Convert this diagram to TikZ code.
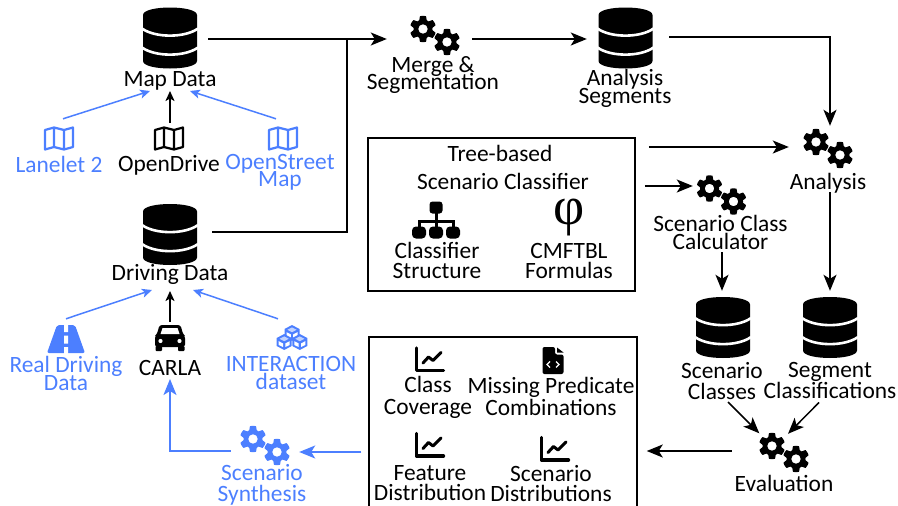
\documentclass[tikz,border=0pt]{standalone}
\usepackage{fontspec}
\setmainfont{Carlito}
\newfontfamily\phifont{Liberation Serif}
\usetikzlibrary{arrows.meta}
\definecolor{iconblue}{HTML}{4C7FFF}
\tikzset{
  lbl/.style={inner sep=0pt,align=center,font=\fontsize{23.4}{#1}\selectfont,
    execute at begin node={\lineskiplimit=-50pt\rule{0pt}{18pt}},
    execute at end node={\rule[-2pt]{0pt}{2pt}}},
  lbl/.default=18,
  blbl/.style={lbl=#1,text=iconblue},
  blbl/.default=18,
  icon/.style 2 args={inner sep=0pt,minimum width=#1,minimum height=#2},
  conn/.style={line width=1.5pt,-{Stealth[length=16pt,width=13pt,inset=4pt]}},
  sconn/.style={line width=1.5pt,-{Stealth[length=10pt,width=9pt,inset=2.5pt]}},
  bsconn/.style={sconn,draw=iconblue},
  bconn/.style={conn,draw=iconblue,-{Stealth[length=16pt,width=13pt,inset=4pt,fill=iconblue]}},
  plain/.style={line width=1.5pt},
  boxed/.style={draw=black,line width=1.5pt,inner sep=0pt},
  pics/db/.style={code={
    \fill[black,rounded corners=1pt] (-27,-22) .. controls (-27,-33) and (27,-33) .. (27,-22) -- (27,22) .. controls (27,33) and (-27,33) .. (-27,22) -- cycle;
    \draw[white,line width=2.6pt] (-28,-9.5) .. controls (-15,0) and (15,0) .. (28,-9.5);
    \draw[white,line width=2.6pt] (-28,9.5) .. controls (-15,19) and (15,19) .. (28,9.5);
  }},
  pics/gears/.style={code={
    \foreach \gx/\gy in {-12/-6,12/7}{
      \begin{scope}[shift={(\gx,\gy)}]
      \fill[#1,even odd rule,line join=round] plot[domain=0:360,samples=181] (\x:{11.3+1.8*max(-1,min(1,2.2*cos(6*\x+180)+0.6))}) -- cycle (0,0) circle (4.8);
      \end{scope}
    }
  }},
  pics/foldmap/.style={code={
    \draw[#1,line width=2.2pt,line join=round] (-14,-8.5) -- (-5,-11) -- (5,-8.5) -- (14,-11) -- (14,8.5) -- (5,11) -- (-5,8.5) -- (-14,11) -- cycle (-5,-11) -- (-5,8.5) (5,-8.5) -- (5,11);
  }},
  pics/carfront/.style={code={
    \fill[black,rounded corners=2.5pt] (-10.5,-13) -- (10.5,-13) -- (13,-4) -- (15,-2) -- (15,9) -- (-15,9) -- (-15,-2) -- (-13,-4) -- cycle;
    \fill[black,rounded corners=1pt] (-14.5,8) rectangle (-8,13);
    \fill[black,rounded corners=1pt] (14.5,8) rectangle (8,13);
    \fill[white] (-7.5,-10) -- (7.5,-10) -- (9.5,-4) -- (-9.5,-4) -- cycle;
    \fill[white] (-9.5,3) circle (2.1) (9.5,3) circle (2.1);
  }},
  pics/roadicon/.style={code={
    \fill[iconblue,rounded corners=2pt] (-9,-14) -- (9,-14) -- (19,14) -- (-19,14) -- cycle;
    \fill[white] (-2,-15) rectangle (2,-7) (-2,-3.5) rectangle (2,4.5) (-2,8) rectangle (2,15);
  }},
  pics/onecube/.style={code={
    \fill[iconblue] (0,-8) -- (7.5,-4) -- (7.5,4) -- (0,8) -- (-7.5,4) -- (-7.5,-4) -- cycle;
    \fill[iconblue!35] (0,-5.6) -- (4.6,-3.2) -- (0,-0.8) -- (-4.6,-3.2) -- cycle;
    \fill[white] (-5.5,-0.8) -- (-1.2,1.4) -- (-1.2,5) -- (-5.5,3) -- cycle;
    \fill[white] (5.5,-0.8) -- (1.2,1.4) -- (1.2,5) -- (5.5,3) -- cycle;
  }},
  pics/cubes/.style={code={
    \pic at (0,-4.5) {onecube};
    \pic at (-7.8,4.5) {onecube};
    \pic at (7.8,4.5) {onecube};
  }},
  pics/sitemap/.style={code={
    \draw[black,line width=3pt] (0,-8) -- (0,7) (-17,9) -- (-17,1.5) -- (17,1.5) -- (17,9);
    \fill[black,rounded corners=3pt] (-6.5,-18.5) rectangle (6.5,-6.5);
    \foreach \sx in {-17,0,17}{
      \fill[black,rounded corners=4pt] (\sx-7,6.5) rectangle (\sx+7,18.5);
    }
  }},
  pics/chartline/.style={code={
    \draw[black,line width=3.4pt,line cap=round,line join=round] (-13.5,-11.5) -- (-13.5,11) -- (13.5,11);
    \draw[black,line width=3pt,line cap=round,line join=round] (-7,3.5) -- (-1.5,-2.5) -- (3,1) -- (11,-7);
  }},
  pics/filecode/.style={code={
    \fill[black,rounded corners=2pt] (-10.5,-13.5) -- (2,-13.5) -- (2,-6) -- (10.5,-6) -- (10.5,13.5) -- (-10.5,13.5) -- cycle;
    \fill[black] (4,-13) -- (10.5,-8) -- (4,-8) -- cycle;
    \draw[white,line width=1.3pt] (-3,1) -- (-6,4) -- (-3,7) (3,1) -- (6,4) -- (3,7);
  }},
}
\begin{document}
\begin{tikzpicture}[x=1pt,y=-1pt]
\path[use as bounding box] (0,0) rectangle (898,506);
\clip (0,0) rectangle (898,506);
% boxes
\node[boxed,minimum width=267pt,minimum height=153pt] (box1) at (501.5,214.5) {};
\node[boxed,minimum width=268pt,minimum height=175pt] (box2) at (503,424.5) {};
% databases
\node[icon={54pt}{60pt}] (db1) at (170,38) {};
\node[icon={54pt}{60pt}] (db2) at (170,234.5) {};
\node[icon={54pt}{60pt}] (db3) at (625.5,38) {};
\node[icon={54pt}{60pt}] (db4) at (723,327.5) {};
\node[icon={54pt}{60pt}] (db5) at (830,327.5) {};
\pic at (db1) {db};
\pic at (db2) {db};
\pic at (db3) {db};
\pic at (db4) {db};
\pic at (db5) {db};
% gears
\node[icon={50pt}{40pt}] (g1) at (435,35) {};
\node[icon={50pt}{40pt}] (g2) at (828,148) {};
\node[icon={50pt}{40pt}] (g3) at (721.5,194.5) {};
\node[icon={50pt}{40pt}] (g4) at (784,452) {};
\node[icon={50pt}{40pt}] (g5) at (265,445) {};
\pic at (g1) {gears=black};
\pic at (g2) {gears=black};
\pic at (g3) {gears=black};
\pic at (g4) {gears=black};
\pic at (g5) {gears=iconblue};
% map icons
\node[icon={30pt}{23pt}] (lanelet) at (59,138.5) {};
\pic at (lanelet) {foldmap=iconblue};
\node[icon={30pt}{23pt}] (opendrive) at (169,138.5) {};
\pic at (opendrive) {foldmap=black};
\node[icon={30pt}{23pt}] (osm) at (283,138.5) {};
\pic at (osm) {foldmap=iconblue};
% source icons
\node[icon={38pt}{28pt}] (road) at (66,339) {};
\pic at (road) {roadicon};
\node[icon={30pt}{26pt}] (car) at (170,338) {};
\pic at (car) {carfront};
\node[icon={30pt}{25pt}] (cubes) at (292,337.5) {};
\pic at (cubes) {cubes};
% box 1 icons
\node[icon={48pt}{38pt}] (tree) at (436,220) {};
\pic at (tree) {sitemap};
\node[inner sep=0pt,font=\fontsize{54}{54}\phifont] (phi) at (569,218) {φ};
% box 2 icons
\node[icon={30pt}{26pt}] (c1) at (430,359.5) {};
\node[icon={30pt}{26pt}] (c2) at (430,445) {};
\node[icon={30pt}{26pt}] (c3) at (555,449) {};
\pic at (c1) {chartline};
\pic at (c2) {chartline};
\pic at (c3) {chartline};
\node[icon={21pt}{27pt}] (fc) at (553,360.5) {};
\pic at (fc) {filecode};
% labels
\node[lbl] (tmap) at (170,79) {Map Data};
\node[blbl] (tlanelet) at (59,164) {Lanelet 2};
\node[lbl] (topendrive) at (169,164) {OpenDrive};
\node[blbl=17] (tosm) at (280,172.5) {OpenStreet\\Map};
\node[lbl] (tdrive) at (170,274) {Driving Data};
\node[blbl] (troad) at (66,374) {Real Driving\\Data};
\node[lbl] (tcarla) at (170,367) {CARLA};
\node[blbl] (tinter) at (291,374) {INTERACTION\\dataset};
\node[blbl=21] (tsynth) at (262,484.5) {Scenario\\Synthesis};
\node[lbl=17] (tmerge) at (433,75.5) {Merge \&\\Segmentation};
\node[lbl] (tseg) at (625,88.5) {Analysis\\Segments};
\node[lbl] (ttree) at (500,153) {Tree-based};
\node[lbl] (tclassifier) at (503,181) {Scenario Classifier};
\node[lbl=20] (tstruct) at (437,261) {Classifier\\Structure};
\node[lbl=20] (tform) at (569,262) {CMFTBL\\Formulas};
\node[lbl] (tanalysis) at (828,182) {Analysis};
\node[lbl] (tcalc) at (720.5,233) {Scenario Class\\Calculator};
\node[lbl=21] (tclasses) at (722,381.5) {Scenario\\Classes};
\node[lbl=21] (tsegc) at (830,381.5) {Segment\\Classifications};
\node[lbl] (teval) at (784,483) {Evaluation};
\node[lbl=22] (tcov) at (428,397) {Class\\Coverage};
\node[lbl=22] (tmiss) at (551,397) {Missing Predicate\\Combinations};
\node[lbl=20] (tfeat) at (430,484) {Feature\\Distribution};
\node[lbl=20] (tdist) at (551,484) {Scenario\\Distributions};
% junction
\coordinate (join) at (347,39);
% connectors
\draw[conn] ([shift={(11,1)}]db1.east) -- ([shift={(-23,4)}]g1.west);
\draw[plain] ([shift={(15,-2.5)}]db2.east) -| (join);
\draw[conn] ([shift={(12,4)}]g1.east) -- ([shift={(-11.5,1)}]db3.west);
\draw[conn] ([shift={(16.5,-1)}]db3.east) -| ([shift={(2,-2)}]g2.north);
\draw[conn] ([shift={(13,-67.5)}]box1.east) -- ([shift={(-14,-1)}]g2.west);
\draw[conn] ([shift={(9,-28.5)}]box1.east) -- ([shift={(-3.5,-8.5)}]g3.west);
\draw[conn] ([shift={(1.5,19)}]tcalc.center) -- ([shift={(-1,-6.5)}]db4.north);
\draw[conn] ([shift={(2,10)}]tanalysis.center) -- ([shift={(0,-6.5)}]db5.north);
\draw[conn] ([shift={(6,20.5)}]tclasses.center) -- ([shift={(0.5,1.5)}]g4.north west);
\draw[conn] ([shift={(-11,21)}]tsegc.center) -- ([shift={(4,2)}]g4.north);
\draw[conn] ([shift={(-27,-1)}]g4.west) -- ([shift={(9,26.5)}]box2.east);
\draw[bconn] ([shift={(-7,27.5)}]box2.west) -- ([shift={(9,7)}]g5.east);
\draw[bconn] ([shift={(-9,6)}]g5.west) -| ([shift={(0,12)}]tcarla.center);
\draw[bsconn] ([shift={(4,-8)}]lanelet.north) -- ([shift={(-20,12)}]tmap.center);
\draw[sconn] ([shift={(1,-4)}]opendrive.north) -- ([shift={(0,12)}]tmap.center);
\draw[bsconn] ([shift={(-7,-8)}]osm.north) -- ([shift={(20,12)}]tmap.center);
\draw[bsconn] ([shift={(0,-6)}]road.north) -- ([shift={(-18,16)}]tdrive.center);
\draw[sconn] ([shift={(0,-3)}]car.north) -- ([shift={(0,17)}]tdrive.center);
\draw[bsconn] ([shift={(-14,-6)}]cubes.north) -- ([shift={(23,16)}]tdrive.center);
\end{tikzpicture}
\end{document}
